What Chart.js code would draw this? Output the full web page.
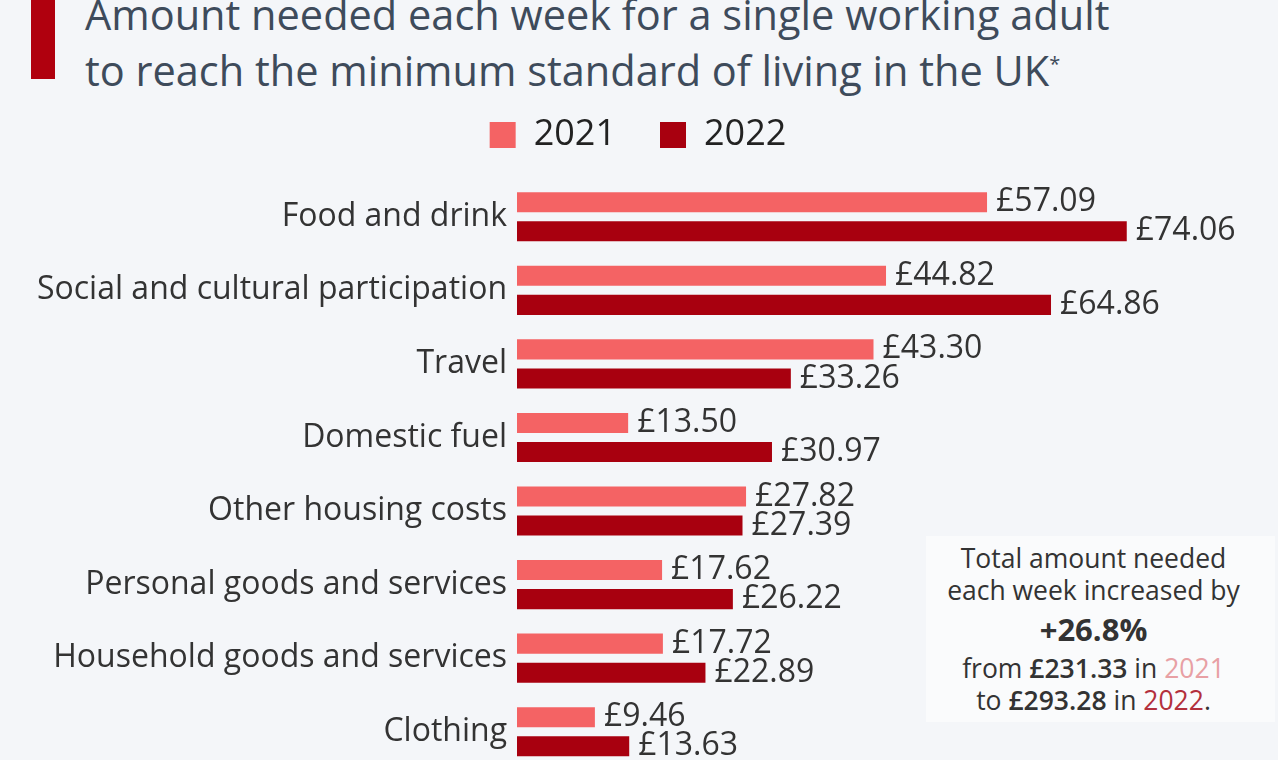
<!DOCTYPE html>
<html>
<head>
<meta charset="utf-8">
<script src="https://cdn.jsdelivr.net/npm/chart.js@4"></script>
<style>
  html, body { margin: 0; padding: 0; width: 1278px; height: 760px; overflow: hidden; background: #f4f6f9; font-family: "Open Sans", sans-serif; }
  #bar { position: absolute; left: 31px; top: 0; width: 24px; height: 79px; background: #b0000e; }
  #title { position: absolute; left: 85px; top: -11px; font-size: 41.5px; line-height: 50px; color: #3e4b5b; white-space: nowrap; }
  #wrap { position: absolute; left: 0; top: 0; width: 1278px; height: 800px; }
  #box { position: absolute; left: 926px; top: 536px; width: 349px; height: 186px; background: #fafbfc; color: #333; text-align: center; font-size: 26.5px; line-height: 32px; padding: 6px 14px 0 0; box-sizing: border-box; }
  #box .big { font-size: 31px; font-weight: bold; line-height: 46px; }
  #box b { font-weight: 600; }
</style>
</head>
<body>
<div id="bar"></div>
<div id="title">Amount needed each week for a single working adult<br>to reach the minimum standard of living in the UK<sup style="font-size:20px">*</sup></div>
<div id="wrap"><canvas id="grafico"></canvas></div>
<div id="box">
  Total amount needed<br>each week increased by<br>
  <div class="big">+26.8%</div>
  from <b>£231.33</b> in <span style="color:#e8a0a4">2021</span><br>
  to <b>£293.28</b> in <span style="color:#b3303c">2022</span>.
</div>
<script>
const categorias = ["Food and drink", "Social and cultural participation", "Travel", "Domestic fuel",
  "Other housing costs", "Personal goods and services", "Household goods and services", "Clothing"];
const valores2021 = [57.09, 44.82, 43.30, 13.50, 27.82, 17.62, 17.72, 9.46];
const valores2022 = [74.06, 64.86, 33.26, 30.97, 27.39, 26.22, 22.89, 13.63];

// legend box height adjusted so chart area starts where the bars start
const alturaLegenda = {
  id: "alturaLegenda",
  beforeInit(chart) {
    const fitOriginal = chart.legend.fit;
    chart.legend.fit = function () {
      fitOriginal.bind(chart.legend)();
      this.height += 17;
    };
  }
};

const rotulosValor = {
  id: "rotulosValor",
  afterDatasetsDraw(chart) {
    const ctx = chart.ctx;
    ctx.save();
    ctx.font = "32px 'Open Sans'";
    ctx.fillStyle = "#333";
    ctx.textBaseline = "middle";
    chart.data.datasets.forEach((ds, i) => {
      chart.getDatasetMeta(i).data.forEach((bar, j) => {
        ctx.fillText("£" + ds.data[j].toFixed(2), bar.x + 9, bar.y);
      });
    });
    ctx.restore();
  }
};

const ctx = document.getElementById("grafico").getContext("2d");
new Chart(ctx, {
  type: "bar",
  data: {
    labels: categorias,
    datasets: [
      { label: "2021", data: valores2021, backgroundColor: "#f46364", barPercentage: 0.69, categoryPercentage: 0.79 },
      { label: "2022", data: valores2022, backgroundColor: "#a8000f", barPercentage: 0.69, categoryPercentage: 0.79 }
    ]
  },
  options: {
    indexAxis: "y",
    responsive: true,
    maintainAspectRatio: false,
    animation: false,
    layout: { padding: { top: 73, right: 20, bottom: 31.5, left: 18 } },
    plugins: {
      legend: {
        labels: { boxWidth: 26, boxHeight: 26, padding: 44, color: "#222", font: { size: 36, family: "Open Sans" } }
      },
      tooltip: { enabled: false }
    },
    scales: {
      x: { display: false, min: 0, max: 90 },
      y: {
        grid: { display: false },
        border: { display: false },
        ticks: { color: "#333", padding: 2, font: { size: 32, family: "Open Sans" } },
        afterFit(scale) { scale.width = 499; }
      }
    }
  },
  plugins: [alturaLegenda, rotulosValor]
});
</script>
</body>
</html>
